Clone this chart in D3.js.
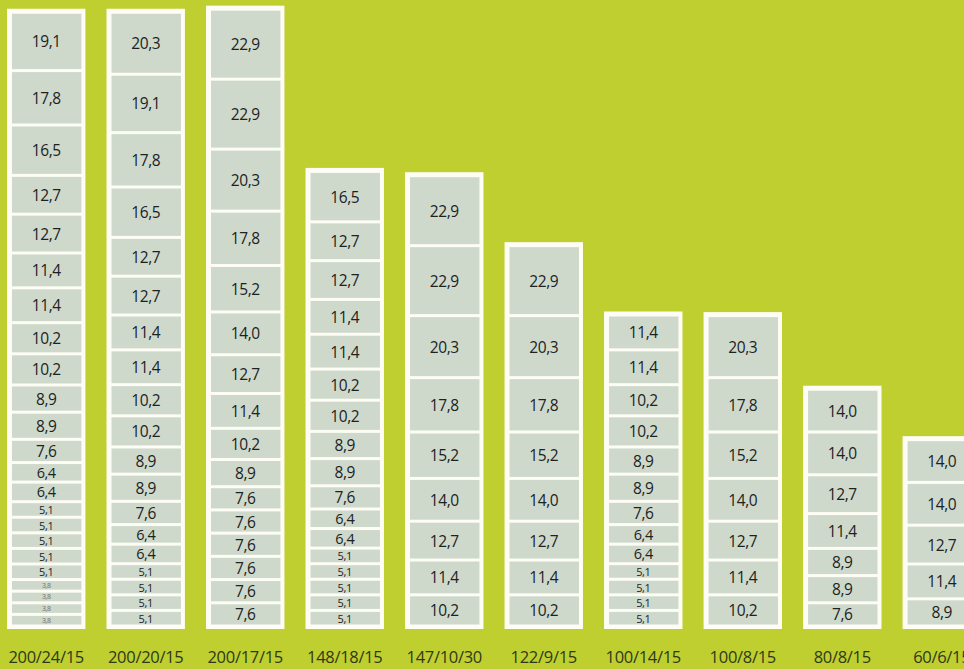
<!DOCTYPE html>
<html><head><meta charset="utf-8">
<script src="https://cdn.jsdelivr.net/npm/d3@7"></script>
<style>html,body{margin:0;padding:0;background:#bfcf2f;overflow:hidden}</style>
</head><body>
<svg id="c" width="964" height="669"></svg>
<script>
const categories = ["200/24/15","200/20/15","200/17/15","148/18/15","147/10/30","122/9/15","100/14/15","100/8/15","80/8/15","60/6/15"];
// segment values, listed top to bottom
const col1 = [19.1,17.8,16.5,12.7,12.7,11.4,11.4,10.2,10.2,8.9,8.9,7.6,6.4,6.4,5.1,5.1,5.1,5.1,5.1,3.8,3.8,3.8,3.8];
const col2 = [20.3,19.1,17.8,16.5,12.7,12.7,11.4,11.4,10.2,10.2,8.9,8.9,7.6,6.4,6.4,5.1,5.1,5.1,5.1];
const col3 = [22.9,22.9,20.3,17.8,15.2,14.0,12.7,11.4,10.2,8.9,7.6,7.6,7.6,7.6,7.6,7.6];
const col4 = [16.5,12.7,12.7,11.4,11.4,10.2,10.2,8.9,8.9,7.6,6.4,6.4,5.1,5.1,5.1,5.1,5.1];
const col5 = [22.9,22.9,20.3,17.8,15.2,14.0,12.7,11.4,10.2];
const col6 = [22.9,20.3,17.8,15.2,14.0,12.7,11.4,10.2];
const col7 = [11.4,11.4,10.2,10.2,8.9,8.9,7.6,6.4,6.4,5.1,5.1,5.1,5.1];
const col8 = [20.3,17.8,15.2,14.0,12.7,11.4,10.2];
const col9 = [14.0,14.0,12.7,11.4,8.9,8.9,7.6];
const col10 = [14.0,14.0,12.7,11.4,8.9];
const columns = [col1,col2,col3,col4,col5,col6,col7,col8,col9,col10];

const svg = d3.select("#c");
svg.append("rect").attr("width",964).attr("height",669).attr("fill","#bfcf2f");

const x = d3.scaleBand().domain(categories).range([7, 981]).paddingInner(0.212).paddingOuter(0);
const y = d3.scaleLinear().domain([0, 200]).range([626, 15]);

const fmt = v => d3.format(".1f")(v).replace(".", ",");

categories.forEach((cat, i) => {
  const vals = columns[i];
  const total = d3.sum(vals);
  const g = svg.append("g");
  const bx = x(cat), bw = x.bandwidth();
  // white frame
  g.append("rect").attr("x", bx).attr("y", y(total) - 3.5)
    .attr("width", bw).attr("height", y(0) - y(total) + 6.5).attr("fill", "#fdfdf5");
  // stack bottom-up
  const bottomUp = vals.slice().reverse();
  let cum = 0;
  bottomUp.forEach(v => {
    const y0 = y(cum), y1 = y(cum + v);
    cum += v;
    const h = y0 - y1;
    g.append("rect").attr("x", bx + 5).attr("width", bw - 9)
      .attr("y", y1 + 1.5).attr("height", Math.max(0, h - 3)).attr("fill", "#ced9cc");
    const fs = h < 13 ? 7 : h < 17 ? 11 : h < 22 ? 14.5 : 15.5;
    g.append("text").attr("x", bx + bw / 2).attr("y", (y0 + y1) / 2)
      .attr("text-anchor", "middle").attr("dominant-baseline", "central")
      .attr("font-family", "'Open Sans', sans-serif").attr("font-size", fs)
      .attr("fill", h < 13 ? "#6a7068" : "#1c231f")
      .attr("letter-spacing", -0.4)
      .text(fmt(v));
  });
  svg.append("text").attr("x", bx + bw / 2).attr("y", 656)
    .attr("text-anchor", "middle").attr("dominant-baseline", "central")
    .attr("font-family", "'Open Sans', sans-serif").attr("font-size", 16.5)
    .attr("fill", "#2e391b").attr("letter-spacing", -0.3)
    .text(cat);
});
</script>
</body></html>
